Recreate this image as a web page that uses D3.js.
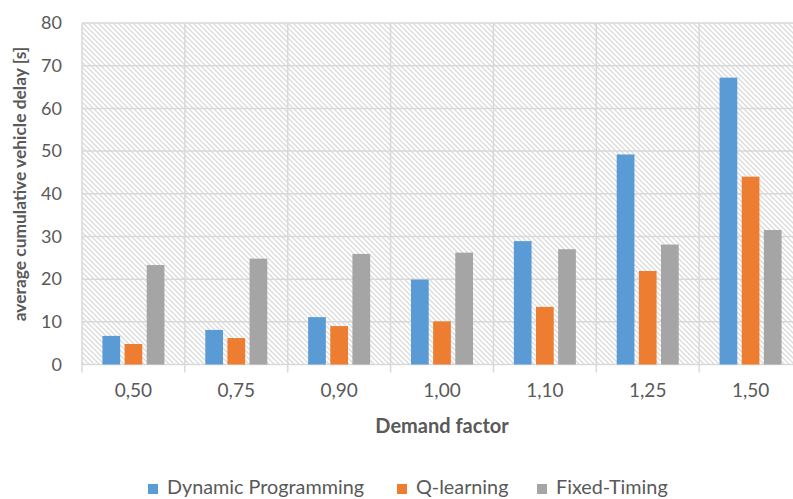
<!DOCTYPE html>
<html>
<head>
<meta charset="utf-8">
<script src="https://cdn.jsdelivr.net/npm/d3@7"></script>
<style>
  html, body { margin: 0; padding: 0; background: #fff; }
  svg { display: block; font-family: Lato, "Open Sans", sans-serif; }
</style>
</head>
<body>
<svg id="chart" width="793" height="499"></svg>
<script>
// Demand factors on the x axis
const categories = ["0,50", "0,75", "0,90", "1,00", "1,10", "1,25", "1,50"];
// Average cumulative vehicle delay [s] per control strategy
const seriesNames = ["Dynamic Programming", "Q-learning", "Fixed-Timing"];
const dynamicProgramming = [6.7, 8.1, 11.1, 19.9, 28.9, 49.2, 67.2];
const qLearning = [4.8, 6.2, 9.0, 10.1, 13.5, 21.9, 44.0];
const fixedTiming = [23.3, 24.8, 25.9, 26.2, 27.0, 28.1, 31.5];
const yTicks = [0, 10, 20, 30, 40, 50, 60, 70, 80];

const seriesValues = [dynamicProgramming, qLearning, fixedTiming];
const colors = ["#5B9BD5", "#ED7D31", "#A5A5A5"];

const svg = d3.select("#chart");
const plot = { left: 82, right: 802, top: 23, bottom: 364.5 };
const textColor = "#595959";
const gridColor = "#d9d9d9";

// Diagonal hatch fill for the plot area
const defs = svg.append("defs");
const pat = defs.append("pattern")
  .attr("id", "hatch")
  .attr("patternUnits", "userSpaceOnUse")
  .attr("width", 5).attr("height", 5);
pat.append("rect").attr("width", 5).attr("height", 5).attr("fill", "#fff");
pat.append("path")
  .attr("d", "M-1,-1 L6,6 M-1,4 L1,6 M4,-1 L6,1")
  .attr("stroke", "#dcdcdc").attr("stroke-width", 1.4);

const x0 = d3.scaleBand().domain(categories).range([plot.left, plot.right]).padding(0);
const x1 = d3.scaleBand().domain(seriesNames).range([-31, 31]).paddingInner(0.2).paddingOuter(0);
const y = d3.scaleLinear().domain([0, 80]).range([plot.bottom, plot.top]);

svg.append("rect")
  .attr("x", plot.left).attr("y", plot.top)
  .attr("width", plot.right - plot.left).attr("height", plot.bottom - plot.top)
  .attr("fill", "url(#hatch)");

// Horizontal gridlines
svg.append("g").selectAll("line").data(yTicks).join("line")
  .attr("x1", plot.left).attr("x2", plot.right)
  .attr("y1", d => y(d)).attr("y2", d => y(d))
  .attr("stroke", gridColor).attr("stroke-width", 1.5);

// Vertical category separators, extended below the baseline as ticks
const seps = categories.map(c => x0(c)).concat([plot.right]);
svg.append("g").selectAll("line").data(seps).join("line")
  .attr("x1", d => d).attr("x2", d => d)
  .attr("y1", plot.top).attr("y2", plot.bottom + 8)
  .attr("stroke", gridColor).attr("stroke-width", 1.5);

// Bars
const groups = svg.append("g").selectAll("g").data(categories).join("g")
  .attr("transform", c => `translate(${x0(c) + x0.bandwidth() / 2},0)`);
groups.selectAll("rect")
  .data((c, i) => seriesNames.map((s, k) => ({ s, k, v: seriesValues[k][i] })))
  .join("rect")
  .attr("x", d => x1(d.s))
  .attr("width", x1.bandwidth())
  .attr("y", d => y(d.v))
  .attr("height", d => y(0) - y(d.v))
  .attr("fill", d => colors[d.k]);

// Y axis labels
const yAxis = d3.axisLeft(y).tickValues(yTicks).tickSize(0).tickPadding(0).tickFormat(d3.format("d"));
svg.append("g")
  .attr("transform", `translate(${plot.left - 20},0)`)
  .call(yAxis)
  .call(g => g.select(".domain").remove())
  .call(g => g.selectAll("text").attr("fill", textColor).attr("font-size", 18).attr("font-family", "Lato, sans-serif"));

// X axis labels
const xAxis = d3.axisBottom(x0).tickSize(0).tickPadding(0);
svg.append("g")
  .attr("transform", `translate(0,${plot.bottom + 19})`)
  .call(xAxis)
  .call(g => g.select(".domain").remove())
  .call(g => g.selectAll("text").attr("fill", textColor).attr("font-size", 19).attr("font-family", "Lato, sans-serif"));

// Axis titles
svg.append("text")
  .attr("transform", `translate(26,184) rotate(-90)`)
  .attr("text-anchor", "middle")
  .attr("fill", textColor).attr("font-weight", "bold").attr("font-size", 17.4)
  .text("average cumulative vehicle delay [s]");

svg.append("text")
  .attr("x", 442).attr("y", 433)
  .attr("text-anchor", "middle")
  .attr("fill", textColor).attr("font-weight", "bold").attr("font-size", 20)
  .text("Demand factor");

// Legend
const legendX = [148, 397, 537];
const legend = svg.append("g").selectAll("g").data(seriesNames).join("g")
  .attr("transform", (d, i) => `translate(${legendX[i]},494)`);
legend.append("rect").attr("x", 0).attr("y", -10).attr("width", 10).attr("height", 10)
  .attr("fill", (d, i) => colors[i]);
legend.append("text").attr("x", 19).attr("y", 0)
  .attr("fill", textColor).attr("font-size", 19.8)
  .text(d => d);
</script>
</body>
</html>
